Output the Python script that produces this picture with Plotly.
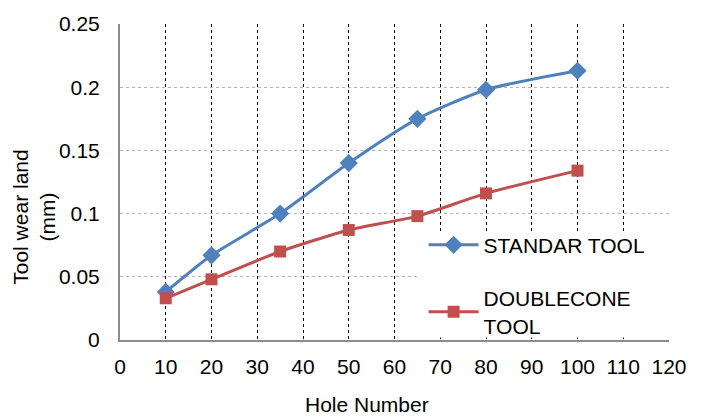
import plotly.graph_objects as go

holes = [10, 20, 35, 50, 65, 80, 100]
standard = [0.038, 0.067, 0.100, 0.140, 0.175, 0.198, 0.213]
doublecone = [0.033, 0.048, 0.070, 0.087, 0.098, 0.116, 0.134]
x_ticks = list(range(0, 121, 10))
y_ticks = [0, 0.05, 0.1, 0.15, 0.2, 0.25]
y_tick_text = ["0", "0.05", "0.1", "0.15", "0.2", "0.25"]

FONT = "Liberation Sans, Arial, sans-serif"
BLUE = "#4F81BD"
RED = "#C0504D"

fig = go.Figure()
fig.add_trace(go.Scatter(
    x=holes, y=standard, name="STANDAR TOOL", mode="lines+markers",
    line=dict(color=BLUE, width=3, shape="spline", smoothing=0.6),
    marker=dict(symbol="diamond", size=14, color=BLUE),
    legendgroup="a",
))
fig.add_trace(go.Scatter(
    x=holes, y=doublecone, name="DOUBLECONE<br>TOOL", mode="lines+markers",
    line=dict(color=RED, width=3, shape="spline", smoothing=0.6),
    marker=dict(symbol="square", size=12, color=RED),
    legendgroup="b",
))

# white box behind legend hiding gridlines
fig.add_shape(type="rect", xref="paper", yref="paper",
              x0=0.546, x1=1.005, y0=0.008, y1=0.336,
              fillcolor="white", line=dict(width=0), layer="above")

fig.add_annotation(text="Tool wear land<br>(mm)", xref="paper", yref="paper",
                   x=-0.156, y=0.388, textangle=-90, showarrow=False,
                   xanchor="center", yanchor="middle",
                   font=dict(family=FONT, size=21, color="#000"))
fig.add_annotation(text="Hole Number", xref="paper", yref="paper",
                   x=0.450, y=-0.205, showarrow=False,
                   xanchor="center", yanchor="middle",
                   font=dict(family=FONT, size=21, color="#000"))

fig.update_layout(
    width=701, height=417,
    margin=dict(l=120, r=32, t=18, b=77),
    paper_bgcolor="white", plot_bgcolor="white",
    font=dict(family=FONT, size=21, color="#000"),
    showlegend=True,
    legend=dict(x=0.553, y=0.365, xanchor="left", yanchor="top",
                bgcolor="rgba(0,0,0,0)", font=dict(family=FONT, size=21, color="#000"),
                tracegroupgap=23, traceorder="grouped", itemwidth=50),
    xaxis=dict(range=[0, 120], tickvals=x_ticks, ticks="", showgrid=True,
               gridcolor="#000", griddash="dot", gridwidth=1,
               showline=True, linecolor="#8c8c8c", linewidth=2, zeroline=False,
               tickfont=dict(size=21), ticklabelstandoff=7),
    yaxis=dict(range=[0, 0.25], tickvals=y_ticks, ticktext=y_tick_text, ticks="",
               showgrid=True, gridcolor="#b5b5b5", griddash="dot", gridwidth=1,
               showline=True, linecolor="#8c8c8c", linewidth=2, zeroline=False,
               tickfont=dict(size=21), ticklabelstandoff=14),
)

fig.write_html("out.html")
